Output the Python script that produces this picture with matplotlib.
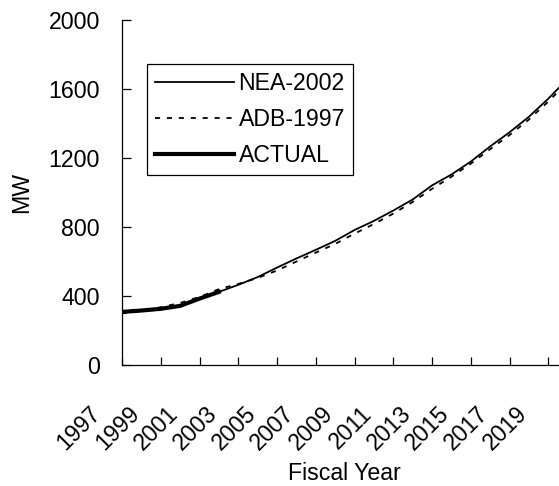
import numpy as np
import matplotlib
matplotlib.use("Agg")
import matplotlib.pyplot as plt
import matplotlib.transforms as mtransforms

# ---- data ----
years = list(range(1997, 2021))
nea_2002 = [306, 314, 325, 343, 385, 424, 465, 510, 565, 618, 668, 720,
            783, 836, 896, 960, 1042, 1105, 1180, 1268, 1350, 1440, 1545, 1660]
adb_1997 = [300, 312, 335, 360, 395, 440, 470, 505, 548, 600, 652, 702,
            762, 818, 878, 946, 1022, 1092, 1168, 1252, 1334, 1424, 1528, 1642]
actual_years = [1997, 1998, 1999, 2000, 2001, 2002]
actual = [308, 316, 326, 343, 385, 424]

tick_years = list(range(1997, 2021, 2))
y_ticks = [0, 400, 800, 1200, 1600, 2000]

plt.rcParams['font.family'] = ['Liberation Sans', 'DejaVu Sans']
fs = 16.7

fig = plt.figure(figsize=(5.59, 4.86), dpi=100)
W, H = 559, 486
x0, x1 = 122, 567.7
y0, y1 = 365, 20.2
ax = fig.add_axes([x0 / W, 1 - y0 / H, (x1 - x0) / W, (y0 - y1) / H])

ax.plot(years, nea_2002, color='black', lw=1.3, label='NEA-2002')
ax.plot(years, adb_1997, color='black', lw=1.3, linestyle=(0, (2.8, 3.8)),
        label='ADB-1997')
ax.plot(actual_years, actual, color='black', lw=3.0, label='ACTUAL')

ax.set_xlim(1997, 2020)
ax.set_ylim(0, 2000)
ax.set_xticks(tick_years)
ax.set_xticklabels([str(y) for y in tick_years], rotation=45, ha='right',
                   rotation_mode='anchor', fontsize=fs)
ax.set_yticks(y_ticks)
ax.set_yticklabels([str(v) for v in y_ticks], fontsize=fs)

ax.tick_params(axis='y', direction='in', length=6.5, width=0.9, pad=15.8)
ax.tick_params(axis='x', direction='in', length=5.8, width=0.9, pad=26.6)

# shift rotated year labels left like the original
offset = mtransforms.ScaledTranslation(-0.33, 0, fig.dpi_scale_trans)
for lab in ax.get_xticklabels():
    lab.set_transform(lab.get_transform() + offset)

for side in ['top', 'right']:
    ax.spines[side].set_visible(False)
for side in ['left', 'bottom']:
    ax.spines[side].set_linewidth(0.9)

ax.set_ylabel('MW', fontsize=fs)
ax.yaxis.set_label_coords(-0.2, 0.5)
ax.set_xlabel('Fiscal Year', fontsize=fs)
ax.xaxis.set_label_coords(0.5, -0.282)
ax.xaxis.label.set_va('top')

leg = ax.legend(loc='upper left', bbox_to_anchor=(147 / W, 1 - 64 / H),
                bbox_transform=fig.transFigure, borderaxespad=0,
                fontsize=fs, fancybox=False, shadow=False, framealpha=1,
                edgecolor='black', handlelength=3.4, handletextpad=0.2,
                borderpad=0.35, labelspacing=0.56)
leg.get_frame().set_linewidth(0.9)

fig.savefig('out.png', dpi=100)
